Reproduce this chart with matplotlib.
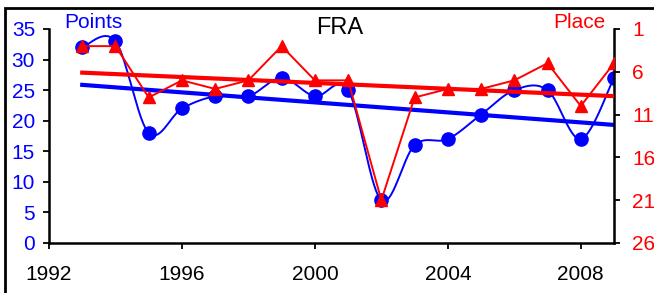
import numpy as np
import matplotlib
matplotlib.use("Agg")
import matplotlib.pyplot as plt
from matplotlib.patches import Rectangle

plt.rcParams['font.family'] = ['Liberation Sans', 'DejaVu Sans']

# -------- Data --------
years = [1993, 1994, 1995, 1996, 1997, 1998, 1999, 2000, 2001,
         2002, 2003, 2004, 2005, 2006, 2007, 2008, 2009]
points = [32, 33, 18, 22, 24, 24, 27, 24, 25, 7, 16, 17, 21, 25, 25, 17, 27]
place = [3, 3, 9, 7, 8, 7, 3, 7, 7, 21, 9, 8, 8, 7, 5, 10, 5]
x_ticks = [1992, 1996, 2000, 2004, 2008]
left_ticks = [0, 5, 10, 15, 20, 25, 30, 35]
right_ticks = [1, 6, 11, 16, 21, 26]

BLUE = "#0000ff"
RED = "#ff0000"


def smooth(xs, ys, n=20):
    # Catmull-Rom style smoothing, like a spreadsheet "smoothed line"
    xs = np.asarray(xs, float)
    ys = np.asarray(ys, float)
    px = np.concatenate([[xs[0]], xs, [xs[-1]]])
    py = np.concatenate([[ys[0]], ys, [ys[-1]]])
    out_x, out_y = [], []
    t = np.linspace(0, 1, n)
    for i in range(1, len(px) - 2):
        p0x, p1x, p2x, p3x = px[i - 1], px[i], px[i + 1], px[i + 2]
        p0y, p1y, p2y, p3y = py[i - 1], py[i], py[i + 1], py[i + 2]
        c1x, c1y = p1x + (p2x - p0x) / 6, p1y + (p2y - p0y) / 6
        c2x, c2y = p2x - (p3x - p1x) / 6, p2y - (p3y - p1y) / 6
        bx = (1 - t) ** 3 * p1x + 3 * (1 - t) ** 2 * t * c1x + 3 * (1 - t) * t ** 2 * c2x + t ** 3 * p2x
        by = (1 - t) ** 3 * p1y + 3 * (1 - t) ** 2 * t * c1y + 3 * (1 - t) * t ** 2 * c2y + t ** 3 * p2y
        out_x.extend(bx)
        out_y.extend(by)
    return out_x, out_y


# -------- Figure --------
fig = plt.figure(figsize=(6.54, 2.93), dpi=100)
ax1 = fig.add_axes([49 / 654, 1 - 243 / 293, 565 / 654, 214 / 293])
ax2 = ax1.twinx()

# outer frame (cropped at right and bottom)
fig.patches.append(Rectangle((5 / 654, -0.1), 1.2, 1.1 - 8 / 293,
                             transform=fig.transFigure, fill=False,
                             edgecolor="black", linewidth=2))

# Points (left axis)
sx, sy = smooth(years, points)
ax1.plot(sx, sy, color=BLUE, linewidth=1.4, zorder=2)
ax1.plot(years, points, "o", color=BLUE, markersize=9.5, zorder=3)
pfit = np.polyfit(years, points, 1)
ax1.plot([years[0], years[-1]], np.polyval(pfit, [years[0], years[-1]]),
         color=BLUE, linewidth=3, zorder=4)

# Place (right axis)
ax2.plot(years, place, "-^", color=RED, linewidth=1.4, markersize=8.5, zorder=3)
qfit = np.polyfit(years, place, 1)
ax2.plot([years[0], years[-1]], np.polyval(qfit, [years[0], years[-1]]),
         color=RED, linewidth=3, zorder=4)

# -------- Axes styling --------
ax1.set_xlim(1992, 2009)
ax1.set_ylim(0, 35)
ax2.set_ylim(26, 1)
ax1.set_xticks(x_ticks)
ax1.set_yticks(left_ticks)
ax2.set_yticks(right_ticks)

for ax in (ax1, ax2):
    ax.spines["top"].set_visible(False)
    for s in ax.spines.values():
        s.set_linewidth(1.8)
ax1.spines["right"].set_visible(False)
ax2.spines["left"].set_visible(False)
ax2.spines["bottom"].set_visible(False)

ax1.tick_params(axis="y", colors=BLUE, labelsize=15, length=4, width=1.3,
                direction="out", pad=6)
ax1.tick_params(axis="y", color="black")
ax1.tick_params(axis="x", labelsize=15, length=4, width=1.3,
                direction="out", pad=12)
ax2.tick_params(axis="y", colors=RED, labelsize=15, length=4, width=1.3,
                direction="out", pad=9)
ax2.tick_params(axis="y", color="black")

fig.text(93 / 654, 1 - 23 / 293, "Points", color=BLUE, fontsize=15,
         ha="center", va="center")
fig.text(340 / 654, 1 - 28 / 293, "FRA", color="black", fontsize=17,
         ha="center", va="center")
fig.text(579 / 654, 1 - 23 / 293, "Place", color=RED, fontsize=15,
         ha="center", va="center")

fig.savefig("out.png", dpi=100)
